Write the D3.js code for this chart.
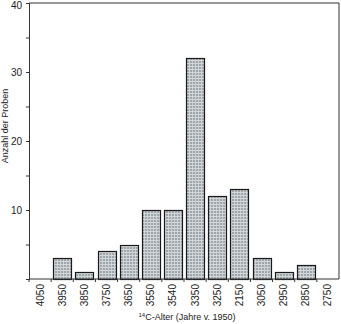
<!DOCTYPE html>
<html>
<head>
<meta charset="utf-8">
<script src="https://cdn.jsdelivr.net/npm/d3@7"></script>
<style>
  html, body { margin: 0; padding: 0; background: #fff; }
  svg { display: block; font-family: "Liberation Sans", Arial, sans-serif; }
</style>
</head>
<body>
<svg id="chart" width="341" height="324"></svg>
<script>
// Radiocarbon age classes (years before 1950) and number of samples per class
const ageClasses = ["4050", "3950", "3850", "3750", "3650", "3550", "3540",
                    "3350", "3250", "2150", "3050", "2950", "2850", "2750"];
const sampleCounts = [0, 3, 1, 4, 5, 10, 10, 32, 12, 13, 3, 1, 2, 0];
const yTickValues = [0, 5, 10, 15, 20, 25, 30, 35, 40];
const yTickLabels = ["", "", "10", "", "20", "", "30", "", "40"];

const svg = d3.select("#chart");
const margin = { left: 29, right: 2, top: 3, bottom: 45 };
const W = 341, H = 324;

const x = d3.scaleBand()
  .domain(ageClasses)
  .range([margin.left, W - margin.right])
  .paddingInner(0.19)
  .paddingOuter(0.095);

const y = d3.scaleLinear()
  .domain([0, 40])
  .range([H - margin.bottom, margin.top]);

// Screened grey fill for the bars
const defs = svg.append("defs");
const pat = defs.append("pattern")
  .attr("id", "screen")
  .attr("patternUnits", "userSpaceOnUse")
  .attr("width", 3).attr("height", 3);
pat.append("rect").attr("width", 3).attr("height", 3).attr("fill", "#9ea6ab");
pat.append("rect").attr("x", 0).attr("y", 0).attr("width", 3).attr("height", 1).attr("fill", "#d6dadc");
pat.append("rect").attr("x", 0).attr("y", 0).attr("width", 1).attr("height", 3).attr("fill", "#cdd2d4");

// Bars
svg.append("g")
  .selectAll("rect")
  .data(ageClasses.map((c, i) => ({ c, v: sampleCounts[i] })).filter(d => d.v > 0))
  .join("rect")
  .attr("x", d => Math.round(x(d.c)) + 0.5)
  .attr("y", d => Math.round(y(d.v)) + 0.5)
  .attr("width", Math.round(x.bandwidth()))
  .attr("height", d => Math.round(y(0)) - Math.round(y(d.v)))
  .attr("fill", "url(#screen)")
  .attr("stroke", "#1a1a1a")
  .attr("stroke-width", 1.2);

// Frame (top and right)
svg.append("path")
  .attr("d", `M${margin.left},${y(40)}H${W - margin.right}V${y(0)}`)
  .attr("fill", "none")
  .attr("stroke", "#333")
  .attr("stroke-width", 1);

// Y axis
const yAxis = d3.axisLeft(y)
  .tickValues(yTickValues)
  .tickFormat((d, i) => yTickLabels[i])
  .tickSize(3)
  .tickPadding(4);
const gy = svg.append("g")
  .attr("transform", `translate(${margin.left},0)`)
  .call(yAxis);
gy.select(".domain").attr("stroke", "#333");
gy.selectAll(".tick line").attr("stroke", "#333");
gy.selectAll("text")
  .attr("font-size", 10)
  .attr("fill", "#222")
  .attr("font-family", "Liberation Sans, Arial, sans-serif");
// keep the top label inside the canvas
gy.selectAll(".tick").filter(d => d === 40).select("text").attr("dy", "0.55em");

// X axis: ticks at class boundaries, labels at class centres
const gx = svg.append("g")
  .attr("transform", `translate(0,${y(0)})`);
gx.append("line")
  .attr("x1", margin.left).attr("x2", W - margin.right)
  .attr("stroke", "#333");
const step = x.step();
const edges = ageClasses.map(c => x(c) - step * x.paddingInner() / 2);
gx.selectAll(".edge")
  .data(edges)
  .join("line")
  .attr("class", "edge")
  .attr("x1", d => d).attr("x2", d => d)
  .attr("y1", 0).attr("y2", 3)
  .attr("stroke", "#333");
gx.selectAll(".lab")
  .data(ageClasses)
  .join("text")
  .attr("class", "lab")
  .attr("transform", d => `translate(${x(d) + x.bandwidth() / 2 + 3.5},5) rotate(-90)`)
  .attr("text-anchor", "end")
  .attr("font-size", 10)
  .attr("fill", "#222")
  .text(d => d);

// Axis titles
svg.append("text")
  .attr("transform", `translate(8,126) rotate(-90)`)
  .attr("text-anchor", "middle")
  .attr("font-size", 9)
  .attr("fill", "#222")
  .text("Anzahl der Proben");

const xt = svg.append("text")
  .attr("x", 187).attr("y", 320)
  .attr("text-anchor", "middle")
  .attr("font-size", 9)
  .attr("fill", "#222");
xt.append("tspan").attr("font-size", 6).attr("dy", -3).text("14");
xt.append("tspan").attr("dy", 3).text("C-Alter (Jahre v. 1950)");
</script>
</body>
</html>
